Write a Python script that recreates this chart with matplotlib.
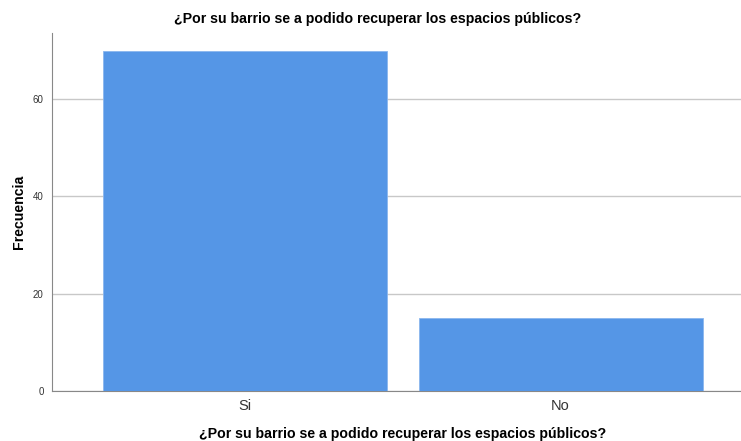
import matplotlib.pyplot as plt

categories = ['Si', 'No']
counts = [70, 15]
title = '¿Por su barrio se a podido recuperar los espacios públicos?'

plt.rcParams['font.family'] = ['Liberation Sans', 'DejaVu Sans']

fig = plt.figure(figsize=(7.41, 4.41), dpi=100)
ax = fig.add_axes([52 / 741, 1 - 391 / 441, (741 - 52) / 741, (391 - 33) / 441])

x = list(range(len(categories)))
ax.bar(x, counts, width=0.9, color='#5596E6', edgecolor='#8AB6EE', linewidth=0.6, zorder=3)

ax.set_xlim(-0.612, 1.572)
ax.set_ylim(0, 73.6)
ax.set_yticks([0, 20, 40, 60])
ax.set_xticks(x)
ax.set_xticklabels(categories, fontsize=10.5, color='#333333')
ax.tick_params(axis='y', labelsize=7, colors='#333333', length=0, pad=6)
ax.tick_params(axis='x', length=0, pad=6)

ax.yaxis.grid(True, color='#C8C8C8', linewidth=1, zorder=0)
for s in ['top', 'right']:
    ax.spines[s].set_visible(False)
ax.spines['left'].set_color('#888888')
ax.spines['bottom'].set_color('#888888')

ax.set_ylabel('Frecuencia', fontsize=10.2, fontweight='bold', labelpad=5)
ax.set_xlabel(title, fontsize=10.2, fontweight='bold', labelpad=8)
ax.xaxis.set_label_coords((403 - 52) / (741 - 52), -0.1)
fig.text(378 / 741, 1 - 19 / 441, title, ha='center', va='center',
         fontsize=10.2, fontweight='bold')

fig.savefig('out.png', dpi=100)
